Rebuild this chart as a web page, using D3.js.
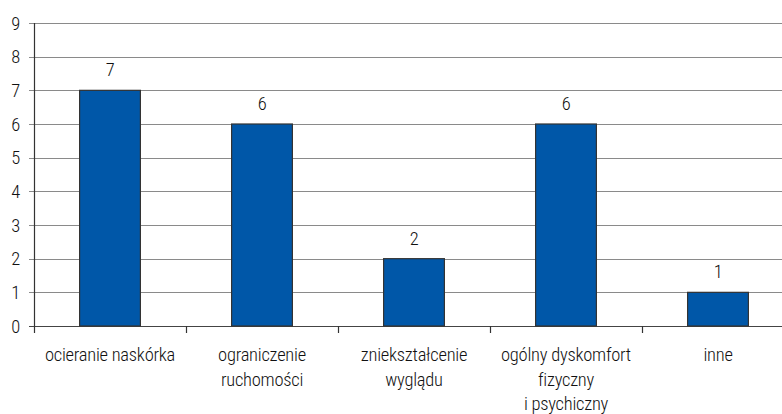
<!DOCTYPE html>
<html>
<head>
<meta charset="utf-8">
<script src="https://cdn.jsdelivr.net/npm/d3@7"></script>
<style>
  body { margin: 0; background: #fff; }
  svg text { font-family: "Roboto Condensed", "Arial Narrow", sans-serif; font-weight: 300; fill: #111; letter-spacing: -0.25px; }
</style>
</head>
<body>
<div id="chart"></div>
<script>
var categories = [
  ["ocieranie naskórka"],
  ["ograniczenie", "ruchomości"],
  ["zniekształcenie", "wyglądu"],
  ["ogólny dyskomfort", "fizyczny", "i psychiczny"],
  ["inne"]
];
var values = [7, 6, 2, 6, 1];
var yTicks = [0, 1, 2, 3, 4, 5, 6, 7, 8, 9];

var width = 782, height = 414;
var margin = {top: 23, left: 34, bottom: 88};
var fontSize = 18.5;

var svg = d3.select("#chart")
    .append("svg")
    .attr("width", width)
    .attr("height", height);

var x = d3.scaleBand()
    .domain(d3.range(categories.length))
    .range([margin.left, margin.left + 152 * categories.length])
    .paddingInner(0.6)
    .paddingOuter(0.3);

var y = d3.scaleLinear()
    .domain([0, 9])
    .range([height - margin.bottom, margin.top]);

// gridlines
svg.append("g")
    .selectAll("line")
    .data(yTicks)
    .enter()
    .append("line")
    .attr("x1", margin.left - 5)
    .attr("x2", width)
    .attr("y1", function(d) { return Math.round(y(d)) + 0.5; })
    .attr("y2", function(d) { return Math.round(y(d)) + 0.5; })
    .attr("stroke", function(d) { return d === 0 ? "#444" : "#8a8a8a"; })
    .attr("stroke-width", 1.2);

// y labels
svg.append("g")
    .selectAll("text")
    .data(yTicks)
    .enter()
    .append("text")
    .attr("x", 20)
    .attr("y", function(d) { return y(d); })
    .attr("dy", "0.36em")
    .attr("text-anchor", "end")
    .attr("font-size", fontSize)
    .text(function(d) { return d; });

// y axis line
svg.append("line")
    .attr("x1", margin.left + 0.5)
    .attr("x2", margin.left + 0.5)
    .attr("y1", y(9))
    .attr("y2", y(0) + 7)
    .attr("stroke", "#333")
    .attr("stroke-width", 1.2);

// x ticks between categories
var step = x.step();
svg.append("g")
    .selectAll("line")
    .data(d3.range(1, categories.length))
    .enter()
    .append("line")
    .attr("x1", function(i) { return Math.round(margin.left + step * i) + 0.5; })
    .attr("x2", function(i) { return Math.round(margin.left + step * i) + 0.5; })
    .attr("y1", y(0))
    .attr("y2", y(0) + 7)
    .attr("stroke", "#333")
    .attr("stroke-width", 1.2);

// bars
svg.append("g")
    .selectAll("rect")
    .data(values)
    .enter()
    .append("rect")
    .attr("x", function(d, i) { return x(i); })
    .attr("y", function(d) { return y(d); })
    .attr("width", x.bandwidth())
    .attr("height", function(d) { return y(0) - y(d); })
    .attr("fill", "#0057a8")
    .attr("stroke", "#333")
    .attr("stroke-width", 1.2);

// value labels
svg.append("g")
    .selectAll("text")
    .data(values)
    .enter()
    .append("text")
    .attr("x", function(d, i) { return x(i) + x.bandwidth() / 2; })
    .attr("y", function(d) { return y(d) - 14; })
    .attr("text-anchor", "middle")
    .attr("font-size", fontSize)
    .text(function(d) { return d; });

// category labels
var labels = svg.append("g")
    .selectAll("text")
    .data(categories)
    .enter()
    .append("text")
    .attr("text-anchor", "middle")
    .attr("font-size", fontSize)
    .attr("x", function(d, i) { return x(i) + x.bandwidth() / 2; })
    .attr("y", 361);

labels.selectAll("tspan")
    .data(function(d) { return d; })
    .enter()
    .append("tspan")
    .attr("x", function() { return d3.select(this.parentNode).attr("x"); })
    .attr("dy", function(d, j) { return j === 0 ? 0 : 24.5; })
    .text(function(d) { return d; });
</script>
</body>
</html>
